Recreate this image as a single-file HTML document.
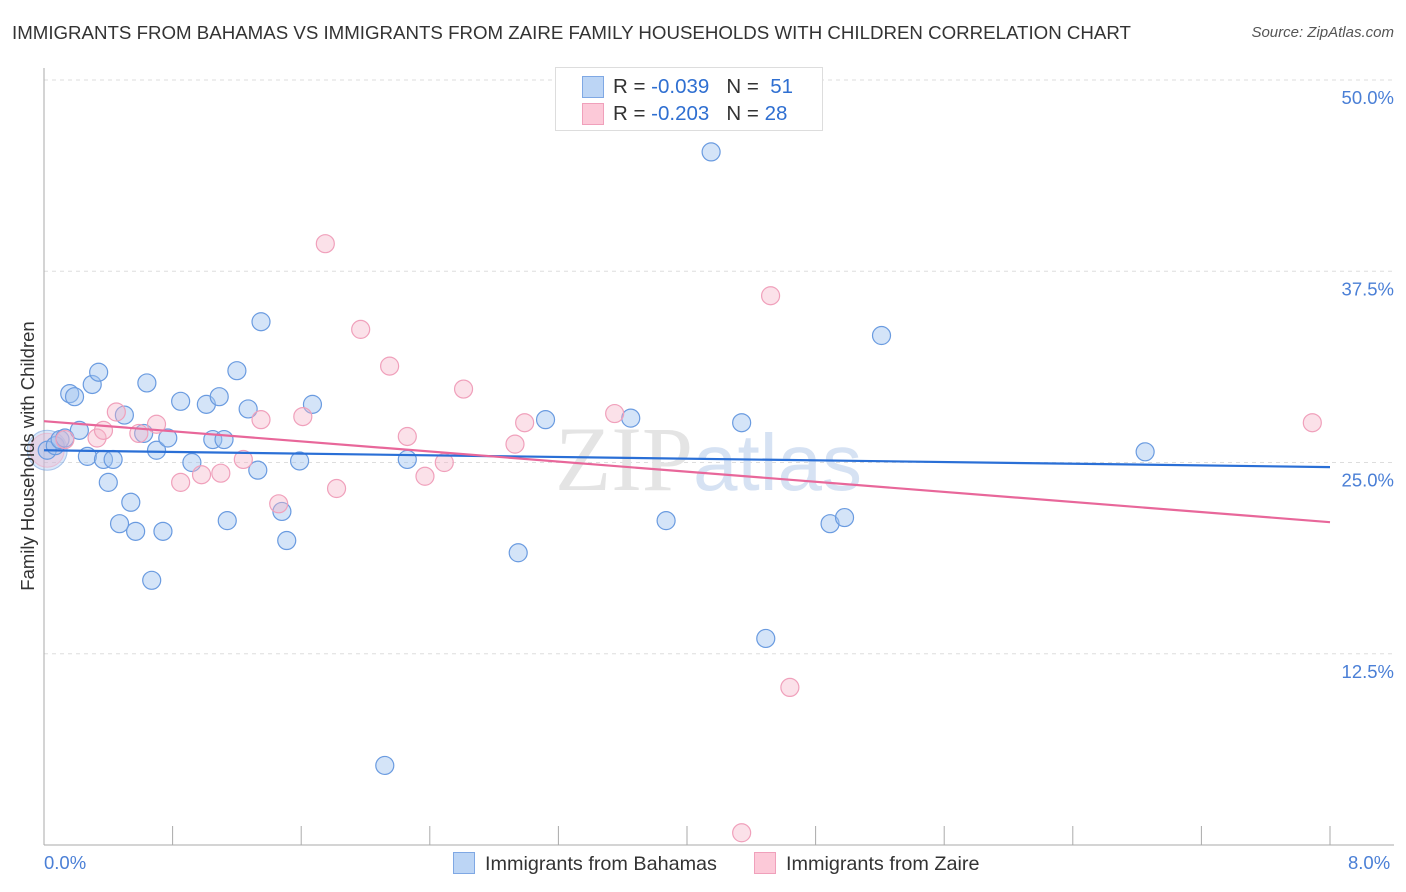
<!DOCTYPE html>
<html><head><meta charset="utf-8"><style>
body{margin:0;background:#fff;font-family:"Liberation Sans",sans-serif;}
#wrap{position:relative;width:1406px;height:892px;overflow:hidden;}
.t{position:absolute;white-space:nowrap;}
</style></head><body>
<div id="wrap">
<div class="t" style="left:12px;top:22px;font-size:18.7px;color:#333;">IMMIGRANTS FROM BAHAMAS VS IMMIGRANTS FROM ZAIRE FAMILY HOUSEHOLDS WITH CHILDREN CORRELATION CHART</div>
<div class="t" style="right:12px;top:24px;font-size:15px;color:#555;font-style:italic;">Source: ZipAtlas.com</div>
<svg id="svg" width="1406" height="892" style="position:absolute;left:0;top:0"></svg>
</div>
<script>
const blueX=[0.02,0.07,0.10,0.13,0.16,0.19,0.22,0.27,0.30,0.34,0.37,0.40,0.43,0.47,0.50,0.54,0.57,0.62,0.64,0.67,0.70,0.74,0.77,0.85,0.92,1.01,1.05,1.09,1.12,1.14,1.20,1.27,1.33,1.35,1.48,1.51,1.59,1.67,2.12,2.26,2.95,3.12,3.65,3.87,4.15,4.34,4.49,4.89,4.98,5.21,6.85];
const blueY=[25.8,26.1,26.5,26.6,29.5,29.3,27.1,25.4,30.1,30.9,25.2,23.7,25.2,21.0,28.1,22.4,20.5,26.9,30.2,17.3,25.8,20.5,26.6,29.0,25.0,28.8,26.5,29.3,26.5,21.2,31.0,28.5,24.5,34.2,21.8,19.9,25.1,28.8,5.2,25.2,19.1,27.8,27.9,21.2,45.3,27.6,13.5,21.0,21.4,33.3,25.7];
const pinkX=[0.13,0.33,0.37,0.45,0.59,0.70,0.85,0.98,1.10,1.24,1.35,1.46,1.61,1.75,1.82,1.97,2.15,2.26,2.37,2.49,2.61,2.93,2.99,3.55,4.52,4.64,4.34,7.89];
const pinkY=[26.5,26.6,27.1,28.3,26.9,27.5,23.7,24.2,24.3,25.2,27.8,22.3,28.0,39.3,23.3,33.7,31.3,26.7,24.1,25.0,29.8,26.2,27.6,28.2,35.9,10.3,0.8,27.6];
const blueTrend=[25.8,24.7];
const pinkTrend=[27.7,21.1];
const yTicks=[12.5,25,37.5,50];
const yTickLabels=["12.5%","25.0%","37.5%","50.0%"];
const NS="http://www.w3.org/2000/svg";
const svg=document.getElementById('svg');
const X=v=>44+v/8*1286, Y=v=>845-v*15.3;
function mk(tag,at){const e=document.createElementNS(NS,tag);for(const k in at)e.setAttribute(k,at[k]);svg.appendChild(e);return e;}
yTicks.forEach((t,i)=>{
 const g=mk('line',{x1:44,x2:1394,y1:Y(t),y2:Y(t),stroke:'#ddd','stroke-dasharray':'4,4'});
 
 
 const l=mk('text',{x:1394,y:Y(t)+24,'text-anchor':'end','font-size':18.5,fill:'#4a7fd6','font-family':'Liberation Sans'});
 l.textContent=yTickLabels[i];
 
 
});
const ax=mk('line',{x1:44,x2:44,y1:68,y2:845,stroke:'#aaa'});


const bx=mk('line',{x1:44,x2:1394,y1:845,y2:845,stroke:'#aaa'});


for(let i=0;i<=10;i++){const tk=mk('line',{x1:X(i*0.8),x2:X(i*0.8),y1:826,y2:845,stroke:'#aaa'});
 
 }
const wm=mk('text',{x:555,y:490,'font-size':92,fill:'#e4e4e4','font-family':'Liberation Serif'});
wm.innerHTML='ZIP<tspan fill="#d6e2f3" font-family="Liberation Sans" font-size="80">atlas</tspan>';


const bb=mk('circle',{cx:X(0.02),cy:Y(25.8),r:20,fill:'rgba(160,196,240,0.4)',stroke:'rgba(100,150,220,0.5)'});


const pb=mk('circle',{cx:X(0.02),cy:Y(25.8),r:17,fill:'rgba(245,180,200,0.35)',stroke:'rgba(240,160,187,0.5)'});


blueX.forEach((v,i)=>{const c=mk('circle',{cx:X(v),cy:Y(blueY[i]),r:9,fill:'rgba(160,196,240,0.45)',stroke:'#6a9be0','stroke-width':1.2});
 
 });
pinkX.forEach((v,i)=>{const c=mk('circle',{cx:X(v),cy:Y(pinkY[i]),r:9,fill:'rgba(245,180,200,0.4)',stroke:'#f0a0bb','stroke-width':1.2});
 
 });
const bl=mk('line',{x1:X(0),x2:X(8),y1:Y(blueTrend[0]),y2:Y(blueTrend[1]),stroke:'#2a6fd6','stroke-width':2.2});


const pl=mk('line',{x1:X(0),x2:X(8),y1:Y(pinkTrend[0]),y2:Y(pinkTrend[1]),stroke:'#e8679a','stroke-width':2.2});


</script>
<div class="t" style="left:28px;top:456px;font-size:18.5px;color:#333;transform:translate(-50%,-50%) rotate(-90deg);">Family Households with Children</div>
<div class="t" style="left:44px;top:852px;font-size:18.5px;color:#4a7fd6;">0.0%</div>
<div class="t" style="left:1348px;top:852px;font-size:18.5px;color:#4a7fd6;">8.0%</div>
<div style="position:absolute;left:555px;top:67px;width:266px;height:62px;border:1px solid #ddd;background:#fff;font-size:20.5px;color:#333;">
 <div style="position:absolute;left:26px;top:8px;width:20px;height:20px;background:#bcd5f5;border:1px solid #7fa8e4;"></div>
 <div class="t" style="left:57px;top:7px;">R = <span style="color:#2f6fd1">-0.039</span>&nbsp;&nbsp;&nbsp;N = &nbsp;<span style="color:#2f6fd1">51</span></div>
 <div style="position:absolute;left:26px;top:35px;width:20px;height:20px;background:#fcc9d8;border:1px solid #f0a0bb;"></div>
 <div class="t" style="left:57px;top:34px;">R = <span style="color:#2f6fd1">-0.203</span>&nbsp;&nbsp;&nbsp;N = <span style="color:#2f6fd1">28</span></div>
</div>
<div style="position:absolute;left:453px;top:852px;font-size:19.8px;color:#333;">
 <span style="display:inline-block;width:20px;height:20px;background:#bcd5f5;border:1px solid #7fa8e4;vertical-align:-4px;margin-right:10px;"></span>Immigrants from Bahamas</div>
<div style="position:absolute;left:754px;top:852px;font-size:19.8px;color:#333;">
 <span style="display:inline-block;width:20px;height:20px;background:#fcc9d8;border:1px solid #f0a0bb;vertical-align:-4px;margin-right:10px;"></span>Immigrants from Zaire</div>
</body></html>
